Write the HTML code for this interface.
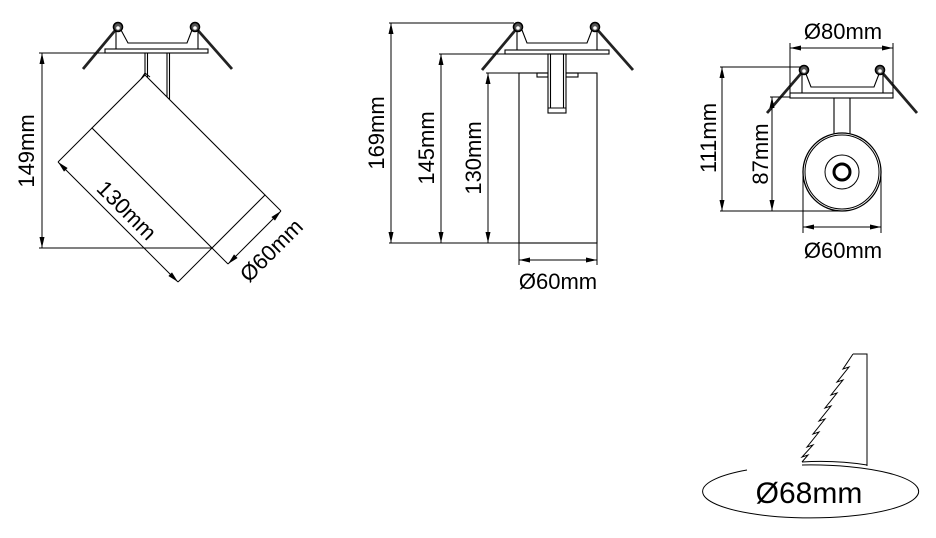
<!DOCTYPE html>
<html><head><meta charset="utf-8"><style>
html,body{margin:0;padding:0;background:#fff;}
svg{display:block;}
text{font-family:"Liberation Sans",Arial,sans-serif;fill:#000;}
</style></head><body>
<svg width="936" height="538" viewBox="0 0 936 538" xmlns="http://www.w3.org/2000/svg">
<rect width="936" height="538" fill="#fff"/>
<g fill="none" stroke="#000" stroke-width="1.1">
<!-- ===== Figure 1 ===== -->
<line x1="118" y1="27" x2="83" y2="69" stroke="#222" stroke-width="2.8"/>
<line x1="195" y1="27" x2="232" y2="69" stroke="#222" stroke-width="2.8"/>
<path d="M116,30 L116,49 M121,30 L128,43 L187,43 L192,30 M198,30 L198,49"/>
<rect x="105" y="49" width="103" height="4" fill="#fff"/>
<circle cx="118" cy="27" r="4.5" fill="#555" stroke-width="1.6"/>
<circle cx="195" cy="27" r="4.5" fill="#555" stroke-width="1.6"/>
<circle cx="118" cy="28" r="1.8" fill="#fff" stroke="none"/>
<circle cx="195" cy="28" r="1.8" fill="#fff" stroke="none"/>
<path d="M145,53 L145,76 M147.5,53 L147.5,78 M167,53 L167,97 M169.5,53 L169.5,99"/>
<polygon points="145,75 92,128 212,248 265,195" fill="#fff"/>
<path d="M141,79 L145,73 L150,77"/>
<path d="M92,128 L58,162 M212,248 L178,282 M58,162 L178,282" stroke-width="1"/>
<path d="M265,195 L281,211 M212,248 L228,264 M281,211 L228,264" stroke-width="1"/>
<path d="M39,53 L105,53 M39,248 L212,248 M42,53 L42,248" stroke-width="1"/>

<!-- ===== Figure 2 ===== -->
<line x1="518" y1="27" x2="482" y2="70" stroke="#222" stroke-width="2.8"/>
<line x1="595" y1="27" x2="633" y2="70" stroke="#222" stroke-width="2.8"/>
<path d="M517,30 L517,50 M522,30 L527,43 L587,43 L592,30 M597,30 L597,50"/>
<rect x="505" y="50" width="104" height="4" fill="#fff"/>
<circle cx="518" cy="27" r="4.5" fill="#555" stroke-width="1.6"/>
<circle cx="595" cy="27" r="4.5" fill="#555" stroke-width="1.6"/>
<circle cx="518" cy="28" r="1.8" fill="#fff" stroke="none"/>
<circle cx="595" cy="28" r="1.8" fill="#fff" stroke="none"/>
<rect x="519" y="73" width="78" height="170" fill="#fff"/>
<rect x="537" y="73" width="11" height="4"/>
<rect x="566" y="73" width="12" height="4"/>
<rect x="548" y="54" width="18" height="59" fill="#fff"/>
<path d="M550.5,54 L550.5,108 M563.5,54 L563.5,108 M548,108 L566,108"/>
<path d="M389,23 L514,23 M389,243 L597,243 M391,23 L391,243" stroke-width="1"/>
<path d="M439,54 L505,54 M441,54 L441,243" stroke-width="1"/>
<path d="M486,73 L519,73 M488,73 L488,243" stroke-width="1"/>
<path d="M519,243 L519,265 M597,243 L597,265 M519,260 L597,260" stroke-width="1"/>

<!-- ===== Figure 3 ===== -->
<line x1="804" y1="70" x2="767" y2="113" stroke="#222" stroke-width="2.8"/>
<line x1="880" y1="70" x2="917" y2="113" stroke="#222" stroke-width="2.8"/>
<path d="M802,74 L802,93 M806,74 L811,87 L874,87 L879,74 M883,74 L883,93"/>
<rect x="790" y="93" width="103" height="5" fill="#fff"/>
<circle cx="804" cy="70" r="4.5" fill="#555" stroke-width="1.6"/>
<circle cx="880" cy="70" r="4.5" fill="#555" stroke-width="1.6"/>
<circle cx="804" cy="71" r="1.8" fill="#fff" stroke="none"/>
<circle cx="880" cy="71" r="1.8" fill="#fff" stroke="none"/>
<path d="M834,98 L834,134 M850,98 L850,134"/>
<circle cx="842" cy="172" r="39" fill="#fff" stroke-width="1.3"/>
<circle cx="842" cy="172" r="37" stroke-width="1"/>
<circle cx="842" cy="172" r="17" stroke-width="1"/>
<circle cx="842" cy="172" r="8" stroke-width="3"/>
<path d="M790,43 L790,93 M893,43 L893,93 M790,48 L893,48" stroke-width="1"/>
<path d="M720,67 L800,67 M720,211 L842,211 M722,67 L722,211" stroke-width="1"/>
<path d="M770,97 L790,97 M772,97 L772,211" stroke-width="1"/>
<path d="M803,172 L803,233 M881,172 L881,233 M803,227 L881,227" stroke-width="1"/>

<!-- ===== Figure 4 ===== -->
<path d="M802,465 A108 26.5 0 1 1 747,470" stroke-width="1"/>
<path d="M802,462 Q835,460 867,465" stroke-width="1"/>
<path d="M853,354 L867,354 L867,466" stroke-width="1"/>
<path d="M853,354 L843,369 L849,367 L837,382 L843,380 L831,395 L837,393 L825,408 L831,406 L819,421 L825,419 L813,434 L819,432 L807,447 L813,445 L802,457 L808,455 L802,462" stroke-width="1"/>
</g>

<g fill="#000" stroke="none">
<polygon points="42,53 39.5,64 44.5,64"/>
<polygon points="42,248 39.5,237 44.5,237"/>
<polygon points="58,162 67.6,168 64,171.6"/>
<polygon points="178,282 168.4,276 172,272.4"/>
<polygon points="281,211 275,220.6 271.4,217"/>
<polygon points="228,264 234,254.4 237.6,258"/>
<polygon points="391,23 388.5,34 393.5,34"/>
<polygon points="391,243 388.5,232 393.5,232"/>
<polygon points="441,54 438.5,65 443.5,65"/>
<polygon points="441,243 438.5,232 443.5,232"/>
<polygon points="488,73 485.5,84 490.5,84"/>
<polygon points="488,243 485.5,232 490.5,232"/>
<polygon points="519,260 530,257.5 530,262.5"/>
<polygon points="597,260 586,257.5 586,262.5"/>
<polygon points="790,48 801,45.5 801,50.5"/>
<polygon points="893,48 882,45.5 882,50.5"/>
<polygon points="722,67 719.5,78 724.5,78"/>
<polygon points="722,211 719.5,200 724.5,200"/>
<polygon points="772,97 769.5,108 774.5,108"/>
<polygon points="772,211 769.5,200 774.5,200"/>
<polygon points="803,227 814,224.5 814,229.5"/>
<polygon points="881,227 870,224.5 870,229.5"/>
</g>

<g font-size="22" text-anchor="middle">
<text transform="translate(26,151) rotate(-90)" y="8">149mm</text>
<text transform="translate(127,210) rotate(45)" y="8">130mm</text>
<text transform="translate(271,250) rotate(-45)" y="8">Ø60mm</text>

<text transform="translate(376,133) rotate(-90)" y="8">169mm</text>
<text transform="translate(426,148) rotate(-90)" y="8">145mm</text>
<text transform="translate(473,158) rotate(-90)" y="8">130mm</text>
<text x="558" y="289">Ø60mm</text>

<text x="843" y="39">Ø80mm</text>
<text transform="translate(708,138) rotate(-90)" y="8">111mm</text>
<text transform="translate(760,154) rotate(-90)" y="8">87mm</text>
<text x="843" y="258">Ø60mm</text>
</g>
<text x="809" y="503" font-size="30" text-anchor="middle">Ø68mm</text>
</svg>
</body></html>
